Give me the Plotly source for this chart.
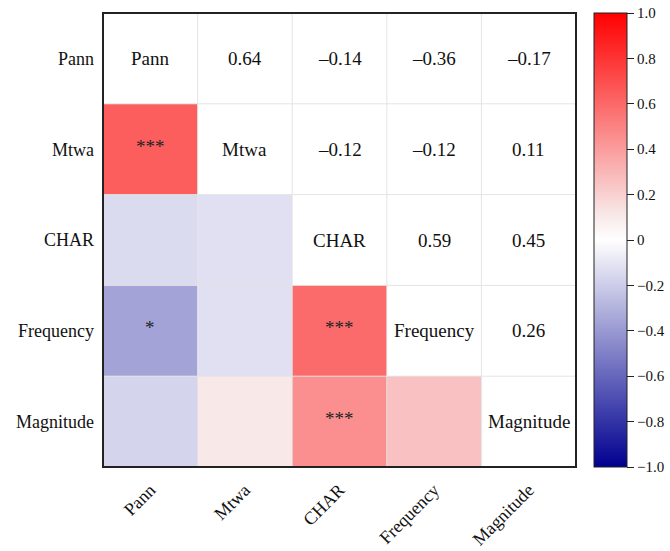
import numpy as np
import plotly.graph_objects as go

# Variables in matrix order (top-to-bottom / left-to-right)
variables = ["Pann", "Mtwa", "CHAR", "Frequency", "Magnitude"]

# Pairwise Pearson correlations (upper triangle, row-wise)
r_pann = [0.64, -0.14, -0.36, -0.17]       # vs Mtwa, CHAR, Frequency, Magnitude
r_mtwa = [-0.12, -0.12, 0.11]              # vs CHAR, Frequency, Magnitude
r_char = [0.59, 0.45]                      # vs Frequency, Magnitude
r_freq = [0.26]                            # vs Magnitude

# Significance marks for the same pairs
sig_pann = ["***", "", "*", ""]
sig_mtwa = ["", "", ""]
sig_char = ["***", "***"]
sig_freq = [""]

# Colour-bar ticks
cb_vals = [1.0, 0.8, 0.6, 0.4, 0.2, 0.0, -0.2, -0.4, -0.6, -0.8, -1.0]
cb_text = ["1.0", "0.8", "0.6", "0.4", "0.2", "0", "\u22120.2", "\u22120.4",
           "\u22120.6", "\u22120.8", "\u22121.0"]

n = len(variables)
corr = np.eye(n)
sig = [["" for _ in range(n)] for _ in range(n)]
for i, (vals, stars) in enumerate(zip([r_pann, r_mtwa, r_char, r_freq],
                                      [sig_pann, sig_mtwa, sig_char, sig_freq])):
    for k, (v, s) in enumerate(zip(vals, stars)):
        j = i + 1 + k
        corr[i, j] = corr[j, i] = v
        sig[i][j] = sig[j][i] = s

# Colour only the lower triangle
z = np.full((n, n), np.nan)
for i in range(n):
    for j in range(i):
        z[i, j] = corr[i, j]

FONT = "Liberation Serif, Times New Roman, serif"
colorscale = [[0.0, "#000090"], [0.5, "#ffffff"], [0.555, "#f8e8e8"], [1.0, "#ff0000"]]

fig = go.Figure()
fig.add_trace(go.Heatmap(
    z=z, x=variables, y=variables,
    zmin=-1, zmax=1, colorscale=colorscale,
    hoverongaps=False,
    colorbar=dict(
        x=1.038, xanchor="left", xpad=0,
        y=0.5, yanchor="middle", len=1.0, ypad=0,
        thickness=33,
        outlinecolor="#222222", outlinewidth=1,
        tickmode="array", tickvals=cb_vals, ticktext=cb_text,
        ticks="outside", ticklen=7, tickcolor="#222222",
        tickfont=dict(family=FONT, size=15, color="#111111"),
    ),
))

annotations = []
for i in range(n):
    for j in range(n):
        if i == j:
            annotations.append(dict(x=variables[j], y=variables[i], text=variables[i],
                                    showarrow=False,
                                    font=dict(family=FONT, size=19, color="#111111")))
        elif j > i:
            v = corr[i, j]
            txt = f"{abs(v):.2f}"
            if v < 0:
                txt = "\u2013" + txt
            annotations.append(dict(x=variables[j], y=variables[i], text=txt,
                                    showarrow=False,
                                    font=dict(family=FONT, size=19, color="#111111")))
        elif sig[i][j]:
            annotations.append(dict(x=variables[j], y=variables[i], text=sig[i][j],
                                    showarrow=False, yshift=3,
                                    font=dict(family=FONT, size=19, color="#222222")))

# Light cell separators
shapes = []
for k in range(1, n):
    shapes.append(dict(type="line", xref="x", yref="y domain",
                       x0=k - 0.5, x1=k - 0.5, y0=0, y1=1,
                       line=dict(color="#e4e4e4", width=1)))
    shapes.append(dict(type="line", xref="x domain", yref="y",
                       x0=0, x1=1, y0=k - 0.5, y1=k - 0.5,
                       line=dict(color="#e4e4e4", width=1)))
shapes.append(dict(type="rect", xref="x domain", yref="y domain",
                   x0=0, x1=1, y0=0, y1=1,
                   line=dict(color="#222222", width=2)))

fig.update_layout(
    width=670, height=551,
    margin=dict(l=103, r=94, t=13, b=84, autoexpand=False),
    paper_bgcolor="white", plot_bgcolor="white",
    annotations=annotations, shapes=shapes,
    font=dict(family=FONT, color="#111111"),
)
fig.update_xaxes(showgrid=False, zeroline=False, ticks="", tickangle=-45,
                 automargin=False, ticklabelstandoff=8,
                 tickfont=dict(family=FONT, size=18, color="#111111"))
fig.update_yaxes(showgrid=False, zeroline=False, ticks="", autorange="reversed",
                 automargin=False, ticklabelstandoff=8,
                 tickfont=dict(family=FONT, size=18, color="#111111"))

fig.write_html("out.html")
